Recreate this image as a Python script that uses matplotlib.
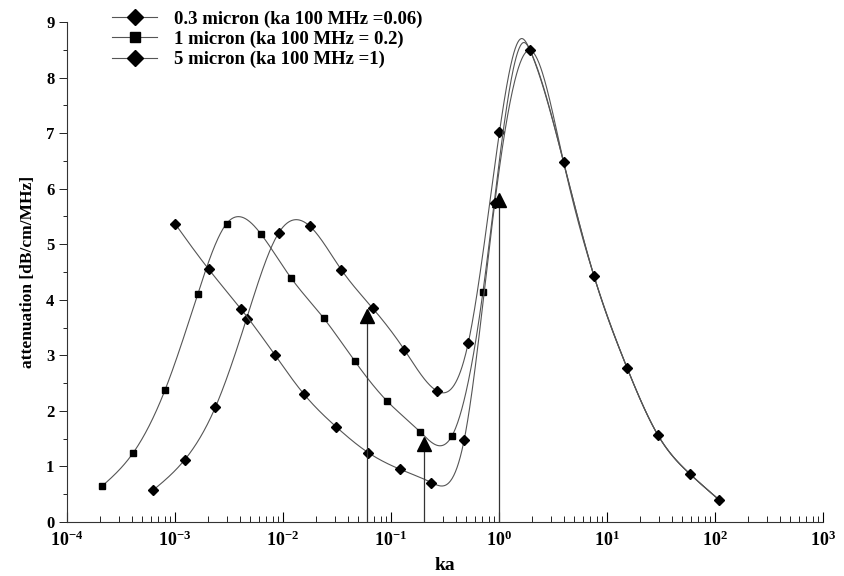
import numpy as np
import matplotlib
matplotlib.use('Agg')
import matplotlib.pyplot as plt
from matplotlib.ticker import FixedLocator, FuncFormatter, NullFormatter

plt.rcParams['font.family'] = 'Liberation Serif'
plt.rcParams['font.weight'] = 'bold'
plt.rcParams['mathtext.fontset'] = 'custom'
plt.rcParams['mathtext.rm'] = 'Liberation Serif:bold'
plt.rcParams['mathtext.bf'] = 'Liberation Serif:bold'

# ------------------------------------
# Data
# ------------------------------------
# 0.3 micron (diamonds)
ka_03 = [6.25e-4, 1.23e-3, 2.37e-3, 4.6e-3, 9.1e-3, 1.76e-2, 3.47e-2, 6.76e-2, 0.133, 0.266, 0.52, 1.01]
att_03 = [0.57, 1.12, 2.07, 3.66, 5.20, 5.33, 4.54, 3.85, 3.10, 2.36, 3.23, 7.02]

# 1 micron (squares)
ka_1 = [2.1e-4, 4.1e-4, 8.1e-4, 1.63e-3, 3.0e-3, 6.27e-3, 1.19e-2, 2.38e-2, 4.64e-2, 9.27e-2, 0.187, 0.367, 0.71]
att_1 = [0.64, 1.245, 2.38, 4.11, 5.37, 5.18, 4.39, 3.67, 2.89, 2.17, 1.62, 1.55, 4.14]

# 5 micron (diamonds)
ka_5 = [1.0e-3, 2.05e-3, 4.1e-3, 8.4e-3, 1.55e-2, 3.12e-2, 6.14e-2, 0.121, 0.237, 0.475, 0.914]
att_5 = [5.37, 4.55, 3.83, 3.01, 2.31, 1.71, 1.25, 0.95, 0.71, 1.47, 5.74]

# curve tops without a marker
top_ka_03 = [1.60]
top_att_03 = [8.70]
top_ka_1 = [1.72]
top_att_1 = [8.63]
top_ka_5 = []
top_att_5 = []

# shared high-ka part (all three curves run together)
ka_tail = [1.94, 3.96, 7.6, 15.3, 29.7, 58.2, 109.0]
att_tail = [8.49, 6.48, 4.42, 2.78, 1.56, 0.87, 0.40]

# ka at 100 MHz markers (arrows)
arrow_ka = [0.06, 0.2, 1.0]
arrow_att = [3.70, 1.40, 5.80]

labels = ['0.3 micron (ka 100 MHz =0.06)',
          '1 micron (ka 100 MHz = 0.2)',
          '5 micron (ka 100 MHz =1)']

x_decades = [-4, -3, -2, -1, 0, 1, 2, 3]


def smooth(xs, ys, n=60):
    # natural cubic spline in log(ka), only used to draw the curve
    order = np.argsort(xs)
    u = np.log10(np.asarray(xs, float)[order])
    y = np.asarray(ys, float)[order]
    h = np.diff(u)
    N = len(u)
    A = np.zeros((N, N))
    r = np.zeros(N)
    A[0, 0] = 1
    A[-1, -1] = 1
    for i in range(1, N - 1):
        A[i, i - 1] = h[i - 1]
        A[i, i] = 2 * (h[i - 1] + h[i])
        A[i, i + 1] = h[i]
        r[i] = 6 * ((y[i + 1] - y[i]) / h[i] - (y[i] - y[i - 1]) / h[i - 1])
    M = np.linalg.solve(A, r)
    uu, yy = [], []
    for i in range(N - 1):
        t = np.linspace(u[i], u[i + 1], n, endpoint=False)
        a = (u[i + 1] - t) / h[i]
        b = (t - u[i]) / h[i]
        s = a * y[i] + b * y[i + 1] + ((a ** 3 - a) * M[i] + (b ** 3 - b) * M[i + 1]) * h[i] ** 2 / 6
        uu.extend(t)
        yy.extend(s)
    uu.append(u[-1])
    yy.append(y[-1])
    return 10 ** np.array(uu), np.array(yy)


fig = plt.figure(figsize=(8.45, 5.76), dpi=100)
ax = fig.add_axes([67 / 845, 54 / 576, 756 / 845, 500 / 576])

line_color = '#555555'
series = [(ka_03, att_03, top_ka_03, top_att_03, 'D', 5.5),
          (ka_1, att_1, top_ka_1, top_att_1, 's', 5),
          (ka_5, att_5, top_ka_5, top_att_5, 'D', 5.5)]
handles = []
for (ks, vs, tk, tv, mk, ms), lab in zip(series, labels):
    xs, ys = smooth(ks + tk + ka_tail, vs + tv + att_tail)
    ax.plot(xs, ys, '-', color=line_color, lw=0.8)
    ax.plot(ks, vs, mk, color='black', ms=ms, ls='none')
    h, = ax.plot([], [], '-', color=line_color, lw=0.8, marker=mk, mfc='black', mec='black',
                 ms=ms + 2.5, label=lab)
    handles.append(h)

ax.plot(ka_tail, att_tail, 'D', color='black', ms=5.5, ls='none')

# arrows at ka for 100 MHz
ax.vlines(arrow_ka, 0, arrow_att, color='#333333', lw=0.9)
ax.plot(arrow_ka, arrow_att, '^', color='black', ms=10, ls='none')

# ------------------------------------
# Axes
# ------------------------------------
ax.set_xscale('log')
ax.set_xlim(1e-4, 1e3)
ax.set_ylim(0, 9)
ax.spines['top'].set_visible(False)
ax.spines['right'].set_visible(False)
for s in ['left', 'bottom']:
    ax.spines[s].set_color('#333333')
    ax.spines[s].set_linewidth(0.8)

minor_x = [m * 10.0 ** d for d in x_decades[:-1] for m in range(2, 10)]
ax.xaxis.set_major_locator(FixedLocator([10.0 ** d for d in x_decades]))
ax.xaxis.set_minor_locator(FixedLocator(minor_x))
ax.xaxis.set_minor_formatter(NullFormatter())
ax.xaxis.set_major_formatter(FuncFormatter(lambda v, p: r'$\mathbf{10^{%d}}$' % round(np.log10(v))))
ax.tick_params(axis='x', which='major', direction='in', length=7, width=0.8, labelsize=13, pad=6)
ax.tick_params(axis='x', which='minor', direction='in', length=4, width=0.6)

ax.yaxis.set_major_locator(FixedLocator(range(0, 10)))
ax.yaxis.set_minor_locator(FixedLocator(np.arange(0.5, 9, 1.0)))
ax.tick_params(axis='y', which='major', direction='out', length=6, width=0.6, labelsize=12, pad=3)
ax.tick_params(axis='y', which='minor', direction='out', length=3, width=0.6)

ax.set_xlabel('ka', fontsize=14, fontweight='bold', labelpad=5)
ax.set_ylabel('attenuation [dB/cm/MHz]', fontsize=12.5, fontweight='bold', labelpad=7)

fig.legend(handles=handles, loc='upper left', bbox_to_anchor=(103 / 845, 1 - 1 / 576),
           frameon=False, fontsize=13.5, handlelength=2.4, handletextpad=0.9,
           labelspacing=0.16, borderpad=0, numpoints=1)

fig.savefig('out.png', dpi=100)
